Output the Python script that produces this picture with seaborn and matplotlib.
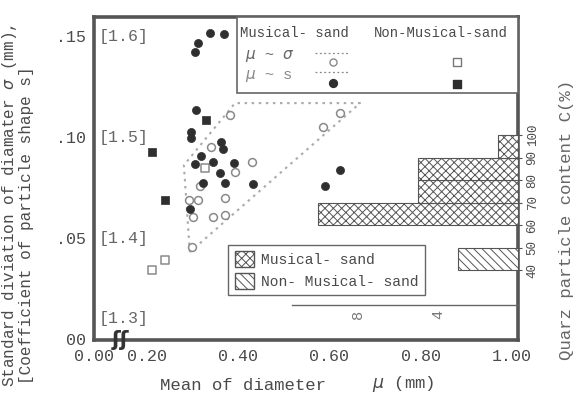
import numpy as np
import matplotlib
matplotlib.use("Agg")
import matplotlib.pyplot as plt
import matplotlib.transforms as mtransforms
from matplotlib.patches import Patch, Rectangle
import seaborn as sns

# ---------------- data ----------------
# Musical sand, mean diameter mu vs standard deviation sigma (open circles)
mus_sigma_mu = [0.382, 0.623, 0.586, 0.340, 0.430, 0.393, 0.312, 0.292, 0.371,
                0.345, 0.371, 0.301, 0.299, 0.316]
mus_sigma_sd = [0.111, 0.112, 0.105, 0.095, 0.0876, 0.0827, 0.0688, 0.0688, 0.0698,
                0.0604, 0.0614, 0.0604, 0.0455, 0.0757]
# Musical sand, mu vs particle-shape coefficient s (filled circles)
mus_s_mu = [0.338, 0.369, 0.312, 0.305, 0.307, 0.296, 0.296, 0.362, 0.367, 0.318,
            0.305, 0.345, 0.391, 0.360, 0.323, 0.371, 0.432, 0.294, 0.623, 0.590]
mus_s_s = [1.603, 1.602, 1.593, 1.584, 1.527, 1.505, 1.499, 1.495, 1.488, 1.481,
           1.473, 1.475, 1.474, 1.464, 1.455, 1.455, 1.454, 1.429, 1.467, 1.452]
# Non-musical sand
non_sigma_mu = [0.211, 0.239, 0.327]
non_sigma_sd = [0.0342, 0.0391, 0.0847]
non_s_mu = [0.211, 0.239, 0.329]
non_s_s = [1.485, 1.438, 1.517]
# dotted envelope of the musical mu~sigma points
env_mu = [0.294, 0.281, 0.393, 0.667, 0.294]
env_sd = [0.0431, 0.0861, 0.1168, 0.1168, 0.0431]
# quartz content histogram (counts of samples)
mus_bin_low = [60, 70, 80, 90]
mus_counts = [10, 5, 5, 1]
non_bin_low = [40]
non_counts = [3]

x_ticks = [0.20, 0.40, 0.60, 0.80, 1.00]
x_ticklabels = ["0.20", "0.40", "0.60", "0.80", "1.00"]
y_ticks = [0.0, 0.05, 0.10, 0.15]
y_ticklabels = ["00", ".05", ".10", ".15"]
s_labels = ["[1.3]", "[1.4]", "[1.5]", "[1.6]"]
c_ticks = [40, 50, 60, 70, 80, 90, 100]
count_ticks = [0, 2, 4, 6, 8, 10]
count_ticklabels = ["", "", "4", "", "8", ""]


def s_to_sigma_axis(s):
    # bracketed scale: s = 1.3 at 0, 1.6 at .15
    return (np.asarray(s) - 1.3) / 2.0


# ---------------- style ----------------
sns.set_theme(style="white")
plt.rcParams["font.family"] = ["Liberation Mono", "DejaVu Sans"]
plt.rcParams["hatch.linewidth"] = 0.7
TXT = "#4a4a4a"
SP = "#555555"

fig = plt.figure(figsize=(5.83, 4.05), dpi=100)
rect = [0.161, 0.160, 0.728, 0.798]
ax = fig.add_axes(rect)
XL, XR = 0.0838, 1.0136
ax.set_xlim(XL, XR)
ax.set_ylim(-0.0005, 0.1594)

# envelope
ax.plot(env_mu, env_sd, ls=(0, (1.2, 2.2)), color="#aaaaaa", lw=1.5, zorder=1)

# scatter marks
sns.scatterplot(x=mus_sigma_mu, y=mus_sigma_sd, marker="o", s=32, color="white",
                edgecolor="#8a8a8a", linewidth=1.1, ax=ax, zorder=3)
sns.scatterplot(x=non_sigma_mu, y=non_sigma_sd, marker="s", s=26, color="white",
                edgecolor="#8a8a8a", linewidth=1.1, ax=ax, zorder=3)
sns.scatterplot(x=mus_s_mu, y=s_to_sigma_axis(mus_s_s), marker="o", s=34,
                color="#2f2f2f", edgecolor="#2f2f2f", linewidth=0.5, ax=ax, zorder=4)
sns.scatterplot(x=non_s_mu, y=s_to_sigma_axis(non_s_s), marker="s", s=28,
                color="#2f2f2f", edgecolor="#2f2f2f", linewidth=0.5, ax=ax, zorder=4)

ax.set_xticks([XL] + x_ticks, ["0.00"] + x_ticklabels)
ax.set_yticks(y_ticks, y_ticklabels)
ax.tick_params(axis="x", direction="in", length=3, width=0.8, colors=SP,
               labelcolor=TXT, labelsize=12, pad=6)
ax.tick_params(axis="y", direction="out", length=4, width=0.8, colors=SP,
               labelcolor=TXT, labelsize=12, pad=2)
for sp in ax.spines.values():
    sp.set_color(SP)
    sp.set_linewidth(2.6)
ax.set_xlabel("")
ax.set_ylabel("")

# bracketed s scale inside the frame
blend = mtransforms.blended_transform_factory(ax.transAxes, ax.transData)
for yv, lab in zip([0.0104, 0.05, 0.10, 0.15], s_labels):
    ax.text(0.012, yv, lab, transform=blend, ha="left", va="center",
            fontsize=12, color="#666666")

# axis-break symbol
ax.text(0.063, 0.0, "ʃʃ", transform=ax.transAxes, ha="center", va="center",
        fontsize=15, fontweight="bold", color="#333333", family="DejaVu Sans",
        clip_on=False, zorder=10)

# ---------------- histogram overlay ----------------
ax2 = fig.add_axes(rect)
ax2.patch.set_visible(False)
ax2.set_xlim(21.2, 0)
ax2.set_ylim(8.9, 152.4)
ax2.barh([v + 5 for v in mus_bin_low], mus_counts, height=10, color="white",
         edgecolor="#555555", hatch="xxxx", linewidth=0.8, zorder=2)
ax2.barh([v + 5 for v in non_bin_low], non_counts, height=10, color="white",
         edgecolor="#555555", hatch="\\\\\\\\", linewidth=0.8, zorder=2)
for k in ["top", "left", "right"]:
    ax2.spines[k].set_visible(False)
ax2.spines["bottom"].set_position(("data", 24.4))
ax2.spines["bottom"].set_bounds(0, 11.3)
ax2.spines["bottom"].set_color("#666666")
ax2.spines["bottom"].set_linewidth(1.0)
ax2.set_xticks(count_ticks, count_ticklabels)
ax2.tick_params(axis="x", direction="in", length=4, width=0.7, colors="#888888",
                labelcolor="#777777", labelsize=11, labelrotation=90, pad=3)
ax2.yaxis.tick_right()
ax2.set_yticks(c_ticks, [str(c) for c in c_ticks])
ax2.tick_params(axis="y", direction="out", length=3, width=0.8, colors=SP,
                labelcolor=TXT, labelsize=9, pad=3)
for lab in ax2.get_yticklabels():
    lab.set_rotation(90)
    lab.set_va("center")

# legend for histogram
ax2.legend(handles=[Patch(facecolor="white", edgecolor="#555555", hatch="xxxx",
                          label="Musical- sand"),
                    Patch(facecolor="white", edgecolor="#555555", hatch="\\\\\\\\",
                          label="Non- Musical- sand")],
           loc="lower left", bbox_to_anchor=(0.316, 0.139), borderaxespad=0,
           fontsize=10.5, frameon=True, fancybox=False, edgecolor="#666666",
           framealpha=1, handlelength=1.3, handleheight=1.3, labelspacing=0.4,
           borderpad=0.45, handletextpad=0.5, labelcolor=TXT)

# ---------------- marker legend (top right) ----------------
ax2.add_patch(Rectangle((0.337, 0.765), 0.663, 0.235, transform=ax2.transAxes,
                        facecolor="white", edgecolor="#666666", lw=1.2, zorder=5,
                        clip_on=False))
ax2.text(0.344, 0.952, "Musical- sand", transform=ax2.transAxes, fontsize=10,
         color=TXT, va="center", ha="left", zorder=6)
ax2.text(0.660, 0.952, "Non-Musical-sand", transform=ax2.transAxes, fontsize=10,
         color=TXT, va="center", ha="left", zorder=6)
ax2.text(0.356, 0.880, "$\\mu$ ~ $\\sigma$", transform=ax2.transAxes, fontsize=11,
         color="#666666", va="center", ha="left", zorder=6)
ax2.text(0.356, 0.818, "$\\mu$ ~ s", transform=ax2.transAxes, fontsize=11,
         color="#888888", va="center", ha="left", zorder=6)
for yy in [0.889, 0.830]:
    ax2.plot([0.521, 0.604], [yy, yy], transform=ax2.transAxes, ls=(0, (1.5, 2)),
             color="#888888", lw=0.9, zorder=6, clip_on=False)
ax2.scatter([0.564], [0.861], transform=ax2.transAxes, marker="o", s=26,
            facecolor="white", edgecolor="#8a8a8a", lw=1.0, zorder=7, clip_on=False)
ax2.scatter([0.564], [0.796], transform=ax2.transAxes, marker="o", s=32,
            facecolor="#2f2f2f", edgecolor="#2f2f2f", zorder=7, clip_on=False)
ax2.scatter([0.856], [0.861], transform=ax2.transAxes, marker="s", s=26,
            facecolor="white", edgecolor="#777777", lw=1.0, zorder=7, clip_on=False)
ax2.scatter([0.856], [0.792], transform=ax2.transAxes, marker="s", s=30,
            facecolor="#2f2f2f", edgecolor="#2f2f2f", zorder=7, clip_on=False)

# ---------------- axis titles ----------------
fig.text(10 / 583, 1 - 205 / 405, "Standard diviation of diamater $\\sigma$ (mm),",
         rotation=90, ha="center", va="center", fontsize=11.5, color=TXT)
fig.text(27 / 583, 1 - 225 / 405, "[Coefficient of particle shape s]",
         rotation=90, ha="center", va="center", fontsize=11.5, color=TXT)
fig.text(160 / 583, 1 - 386 / 405, "Mean of diameter", ha="left", va="center",
         fontsize=12.5, color=TXT)
fig.text(372 / 583, 1 - 384 / 405, "$\\mu$ (mm)", ha="left", va="center",
         fontsize=12.5, color=TXT)
fig.text(566 / 583, 1 - 220 / 405, "Quarz particle content C(%)", rotation=90,
         ha="center", va="center", fontsize=12.5, color="#666666")

fig.savefig("out.png", dpi=100, facecolor="white")
